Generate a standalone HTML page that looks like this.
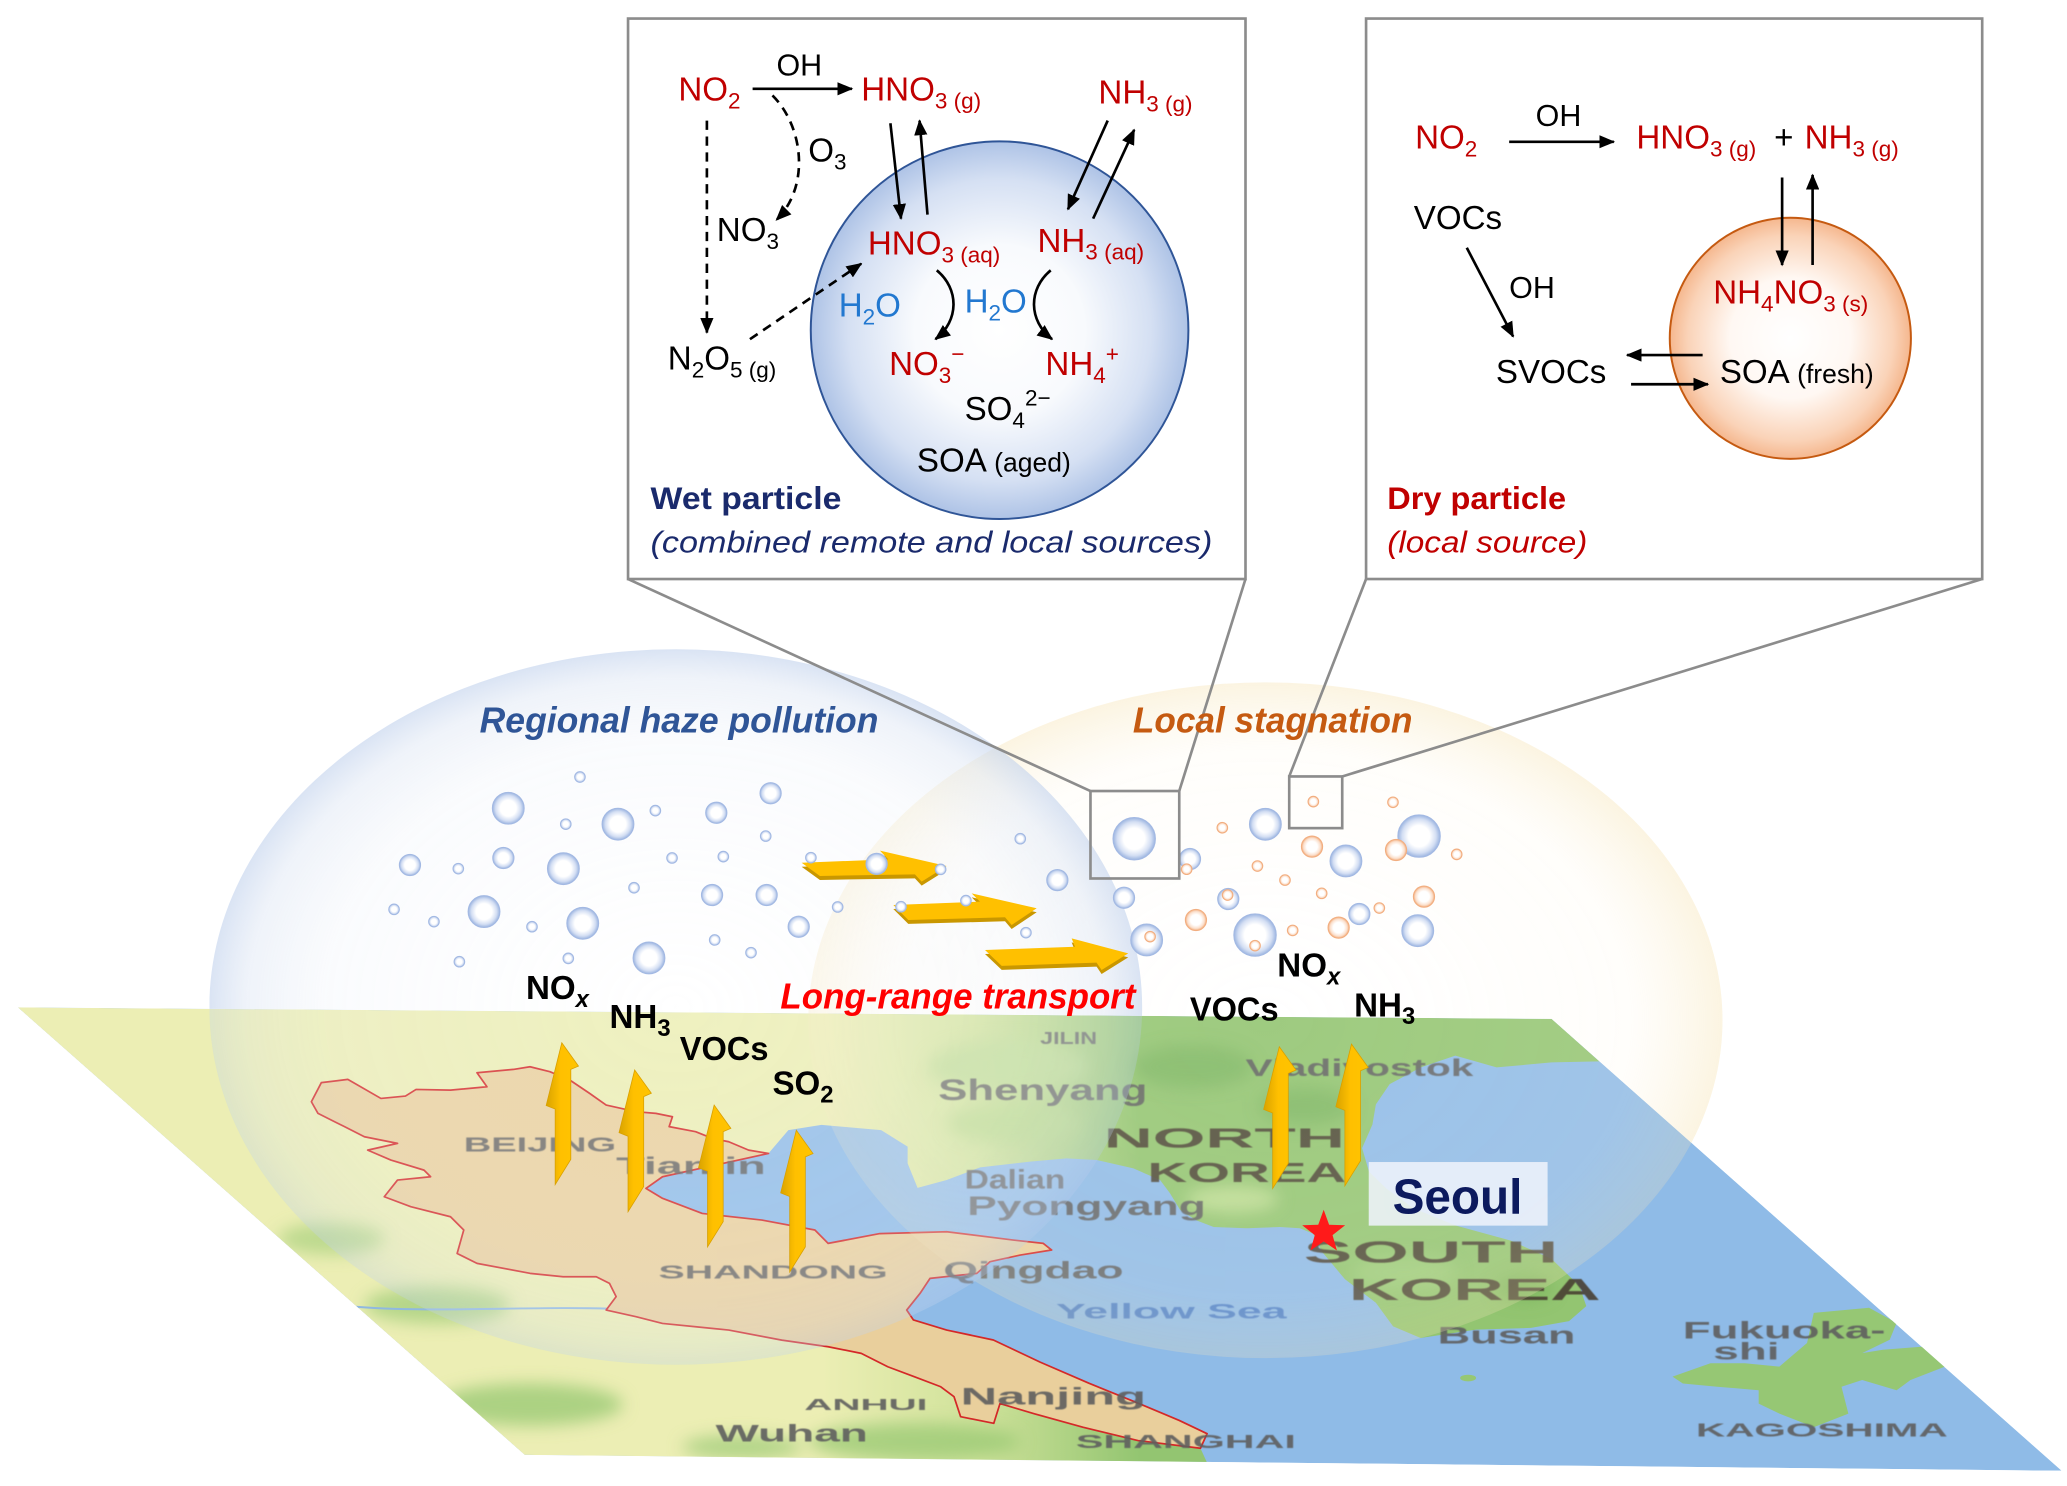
<!DOCTYPE html>
<html><head><meta charset="utf-8"><style>
html,body{margin:0;padding:0;background:#fff;overflow:hidden;}
svg{display:block;}
text{font-family:"Liberation Sans",Arial,sans-serif;}
</style></head><body>
<svg width="2067" height="1486" viewBox="0 0 1560 1121.5" preserveAspectRatio="none" xmlns="http://www.w3.org/2000/svg">
<defs>
<marker id="ah" viewBox="0 0 12 10" refX="11" refY="5" markerWidth="12" markerHeight="10" markerUnits="userSpaceOnUse" orient="auto"><path d="M0,0 L12,5 L0,10 z" fill="#000"/></marker>
<clipPath id="mapClip"><polygon points="13.5,760.3 1171,769 1556,1110 396,1098"/></clipPath>
<clipPath id="notMap"><path clip-rule="evenodd" d="M0,0 H1560 V1121.5 H0 Z M13.5,760.3 L1171,769 L1556,1110 L396,1098 Z"/></clipPath>
<clipPath id="landClip"><polygon points="13.5,760.3 1171,769 1207,801 1171.1,801.8 1129.5,805.6 1098.3,796.7 1072.3,805.6 1048.8,818.2 1038.4,833.5 1035.8,848.7 1028,866.5 1033.2,884.2 1046.2,896.9 1067,912.1 1098.3,924.8 1139.9,936.2 1171.1,950.2 1192,970.5 1197.2,985.7 1184.2,997.1 1155.5,1002.2 1113.9,1003.5 1072.2,1009.8 1051.4,1001 1038.4,983.2 1015,965.4 998,945 991,931 981,927 966,926 941,927 916,926 903,921 890.6,913 883,900.6 875.5,890.6 855.4,881.8 827.7,875.5 805,874.2 777.4,876.7 739.7,881 714.5,890.6 692.5,896.5 685,878 685,865.4 665,852.9 620,849 595,852.9 580,870.5 500,888.1 487.5,896.9 500,904.4 530,915.8 575,920.8 615,928.3 625,938.4 664,931 714.5,929.6 764.8,935.9 787.4,938.4 793.7,943.4 770,947.2 747.2,952.2 737.2,961 701.9,964.8 694.4,976.1 684.3,988.7 689.4,996.2 714.5,1003.8 749.7,1011.3 785,1028 822,1044 859,1059 890,1072 911,1082 906,1093 911,1104 396,1098"/></clipPath>
<linearGradient id="landGrad" gradientUnits="userSpaceOnUse" x1="620" y1="0" x2="860" y2="0">
<stop offset="0" stop-color="#eceeb4"/><stop offset="0.5" stop-color="#cfe29a"/><stop offset="1" stop-color="#93c571"/></linearGradient>
<radialGradient id="bubL" cx="0.5" cy="0.5" r="0.5">
<stop offset="0" stop-color="#ffffff" stop-opacity="0.3"/>
<stop offset="0.75" stop-color="#f3f6fb" stop-opacity="0.4"/>
<stop offset="0.92" stop-color="#dfe7f4" stop-opacity="0.5"/>
<stop offset="1" stop-color="#c3d3ed" stop-opacity="0.62"/></radialGradient>
<radialGradient id="bubR" cx="0.5" cy="0.5" r="0.5">
<stop offset="0" stop-color="#ffffff" stop-opacity="0.2"/>
<stop offset="0.8" stop-color="#fffaf0" stop-opacity="0.28"/>
<stop offset="1" stop-color="#f7e7bd" stop-opacity="0.45"/></radialGradient>
<radialGradient id="gb" cx="0.5" cy="0.5" r="0.5">
<stop offset="0" stop-color="#fff"/><stop offset="0.5" stop-color="#fff"/><stop offset="0.8" stop-color="#d3def3"/><stop offset="1" stop-color="#9bb4e0"/></radialGradient>
<radialGradient id="go" cx="0.5" cy="0.5" r="0.5">
<stop offset="0" stop-color="#fff"/><stop offset="0.5" stop-color="#fff"/><stop offset="0.8" stop-color="#fbe0cd"/><stop offset="1" stop-color="#f2ab7a"/></radialGradient>
<radialGradient id="wetG" cx="0.5" cy="0.5" r="0.5">
<stop offset="0" stop-color="#fff"/><stop offset="0.45" stop-color="#f8fafd"/><stop offset="0.8" stop-color="#d5e0f3"/><stop offset="1" stop-color="#aec3e6"/></radialGradient>
<radialGradient id="dryG" cx="0.5" cy="0.5" r="0.5">
<stop offset="0" stop-color="#fff"/><stop offset="0.5" stop-color="#fff8f3"/><stop offset="0.85" stop-color="#fad3b8"/><stop offset="1" stop-color="#f5b78e"/></radialGradient>
<linearGradient id="varr" x1="0" y1="0" x2="1" y2="0">
<stop offset="0" stop-color="#d9a300"/><stop offset="0.45" stop-color="#ffc000"/><stop offset="1" stop-color="#ffc400"/></linearGradient>
<filter id="blur1" x="-20%" y="-20%" width="140%" height="140%"><feGaussianBlur stdDeviation="6"/></filter>
<filter id="blurT" x="-5%" y="-30%" width="110%" height="160%"><feGaussianBlur stdDeviation="0.5"/></filter>
<g id="varrow"><polygon points="0,0 12.6,17.6 6.8,20.1 6.8,88 -5,107 -5,50 -11.8,47.3" fill="url(#varr)" stroke="#d9a000" stroke-width="0.6"/></g>
<g id="bigBubbles">
<ellipse cx="955" cy="770" rx="345" ry="255" fill="url(#bubR)"/>
<ellipse cx="510" cy="760" rx="352" ry="270" fill="url(#bubL)"/>
</g>
</defs>

<!-- ============ MAP ============ -->
<g clip-path="url(#mapClip)">
  <polygon points="13.5,760.3 1171,769 1556,1110 396,1098" fill="#8fbbe7"/>
  <polygon fill="url(#landGrad)" points="13.5,760.3 1171,769 1207,801 1171.1,801.8 1129.5,805.6 1098.3,796.7 1072.3,805.6 1048.8,818.2 1038.4,833.5 1035.8,848.7 1028,866.5 1033.2,884.2 1046.2,896.9 1067,912.1 1098.3,924.8 1139.9,936.2 1171.1,950.2 1192,970.5 1197.2,985.7 1184.2,997.1 1155.5,1002.2 1113.9,1003.5 1072.2,1009.8 1051.4,1001 1038.4,983.2 1015,965.4 998,945 991,931 981,927 966,926 941,927 916,926 903,921 890.6,913 883,900.6 875.5,890.6 855.4,881.8 827.7,875.5 805,874.2 777.4,876.7 739.7,881 714.5,890.6 692.5,896.5 685,878 685,865.4 665,852.9 620,849 595,852.9 580,870.5 500,888.1 487.5,896.9 500,904.4 530,915.8 575,920.8 615,928.3 625,938.4 664,931 714.5,929.6 764.8,935.9 787.4,938.4 793.7,943.4 770,947.2 747.2,952.2 737.2,961 701.9,964.8 694.4,976.1 684.3,988.7 689.4,996.2 714.5,1003.8 749.7,1011.3 785,1028 822,1044 859,1059 890,1072 911,1082 906,1093 911,1104 396,1098"/>
  <g clip-path="url(#landClip)">
    <g filter="url(#blur1)">
      <ellipse cx="330" cy="985" rx="55" ry="14" fill="#a7cf7e" opacity="0.8"/>
      <ellipse cx="400" cy="1060" rx="70" ry="16" fill="#9cca76" opacity="0.8"/>
      <ellipse cx="690" cy="1088" rx="80" ry="14" fill="#9cca76" opacity="0.8"/>
      <ellipse cx="250" cy="935" rx="40" ry="12" fill="#b1d486" opacity="0.8"/>
      <ellipse cx="560" cy="1092" rx="45" ry="9" fill="#a3cd7c" opacity="0.8"/>
      <ellipse cx="760" cy="805" rx="60" ry="20" fill="#bcdb92" opacity="0.8"/>
      <ellipse cx="765" cy="848" rx="50" ry="15" fill="#b5d78a" opacity="0.8"/>
      <ellipse cx="900" cy="805" rx="45" ry="16" fill="#74b05a" opacity="0.6"/>
      <ellipse cx="985" cy="835" rx="35" ry="14" fill="#74b05a" opacity="0.6"/>
      <ellipse cx="1085" cy="905" rx="28" ry="10" fill="#74b05a" opacity="0.55"/>
      <ellipse cx="1150" cy="972" rx="22" ry="10" fill="#74b05a" opacity="0.55"/>
      <ellipse cx="1060" cy="960" rx="40" ry="12" fill="#a9d283" opacity="0.6"/>
      <ellipse cx="930" cy="905" rx="35" ry="10" fill="#cfe6a0" opacity="0.7"/>
    </g>
    <path d="M255,985 C320,992 400,985 470,988" stroke="#8fb8e0" stroke-width="1.5" fill="none"/>
  </g>
  <!-- Japan -->
  <polygon points="1262.3,1039 1290.9,1028.9 1316.9,1028.9 1342.9,1031.4 1363.8,1013.6 1368.9,990.8 1410.6,987 1431.4,998.4 1426.2,1011.1 1405.4,1021.2 1421,1018.7 1452.3,1016.2 1467.9,1031.4 1441.9,1041.5 1431.4,1049.2 1405.4,1041.5 1389.8,1046.6 1395,1066.9 1369,1077.1 1343,1066.9 1327.3,1059.3 1327.3,1049.2 1296.1,1046.6 1270.1,1044.1" fill="#96c774"/>
  <ellipse cx="1108" cy="1040" rx="6" ry="2.5" fill="#96c774"/>
  <!-- China provinces -->
  <polygon points="235,831.5 242.5,817.1 262.5,814.6 287.5,829 306,827.2 314,822.2 340,822.7 367.5,820.2 360,809.6 387.5,807.1 400,805.1 415,808.8 430,815.1 445,825.2 457.5,834 480,839 495,840.3 507.5,842.8 505,850.3 525,854.1 537.5,859.1 550,861.7 565,868 580,870.5 500,888.1 487.5,896.9 500,904.4 530,915.8 575,920.8 615,928.3 625,938.4 664,931 714.5,929.6 764.8,935.9 787.4,938.4 793.7,943.4 770,947.2 747.2,952.2 737.2,961 701.9,964.8 694.4,976.1 684.3,988.7 689.4,996.2 714.5,1003.8 749.7,1011.3 785,1028 822,1044 859,1059 890,1072 911,1082 906,1093 858.8,1087.2 817.2,1077.1 780.7,1067 754.7,1059.3 750,1074.2 725,1069.2 720,1054.1 710,1046.6 690,1039 670,1031.5 650,1021.4 625,1016.4 590,1011.4 550,1003.8 525,1001.3 500,998.8 480,993.7 457.5,988.7 465,978.6 460,968.6 450,963.6 425,963.6 400,961 360,953.5 345,946 350,928.3 340,918.3 310,910.7 290,903.2 300,890.6 325,888.1 320,883.1 295,875.5 277.5,868 300,862.9 275,857.9 260,850.3 240,840.3" fill="#e9cf9c" stroke="#d42828" stroke-width="1.3" stroke-linejoin="round"/>
  <!-- map labels -->
  <g font-weight="bold" fill="#5e5e5e" opacity="0.9" filter="url(#blurT)">
    <text x="785" y="788" font-size="13" textLength="43" lengthAdjust="spacingAndGlyphs">JILIN</text>
    <text x="708" y="830" font-size="22" textLength="158" lengthAdjust="spacingAndGlyphs">Shenyang</text>
    <text x="728" y="897" font-size="20" textLength="76" lengthAdjust="spacingAndGlyphs">Dalian</text>
    <text x="730" y="917" font-size="20" textLength="180" lengthAdjust="spacingAndGlyphs">Pyongyang</text>
    <text x="940" y="812" font-size="18" textLength="172" lengthAdjust="spacingAndGlyphs">Vladivostok</text>
    <text x="833" y="866" font-size="21" textLength="182" lengthAdjust="spacingAndGlyphs" fill="#4a4033">NORTH</text>
    <text x="866" y="892" font-size="21" textLength="150" lengthAdjust="spacingAndGlyphs" fill="#4a4033">KOREA</text>
    <text x="984" y="953" font-size="23" textLength="192" lengthAdjust="spacingAndGlyphs" fill="#4a4033">SOUTH</text>
    <text x="1018" y="981" font-size="23" textLength="190" lengthAdjust="spacingAndGlyphs" fill="#4a4033">KOREA</text>
    <text x="797" y="995" font-size="16" textLength="174" lengthAdjust="spacingAndGlyphs" fill="#4a7cc6">Yellow Sea</text>
    <text x="1085" y="1014" font-size="18" textLength="104" lengthAdjust="spacingAndGlyphs">Busan</text>
    <text x="1270" y="1010" font-size="18" textLength="153" lengthAdjust="spacingAndGlyphs">Fukuoka-</text>
    <text x="1293" y="1026" font-size="18" textLength="50" lengthAdjust="spacingAndGlyphs">shi</text>
    <text x="1280" y="1084" font-size="14" textLength="190" lengthAdjust="spacingAndGlyphs">KAGOSHIMA</text>
    <text x="350" y="869" font-size="15" textLength="115" lengthAdjust="spacingAndGlyphs">BEIJING</text>
    <text x="465" y="886" font-size="18" textLength="113" lengthAdjust="spacingAndGlyphs">Tianjin</text>
    <text x="497" y="965" font-size="14" textLength="173" lengthAdjust="spacingAndGlyphs">SHANDONG</text>
    <text x="712" y="965" font-size="18" textLength="136" lengthAdjust="spacingAndGlyphs">Qingdao</text>
    <text x="607" y="1064" font-size="12" textLength="93" lengthAdjust="spacingAndGlyphs">ANHUI</text>
    <text x="725" y="1060" font-size="18" textLength="140" lengthAdjust="spacingAndGlyphs">Nanjing</text>
    <text x="540" y="1088" font-size="18" textLength="115" lengthAdjust="spacingAndGlyphs">Wuhan</text>
    <text x="812" y="1093" font-size="14" textLength="166" lengthAdjust="spacingAndGlyphs">SHANGHAI</text>
  </g>
</g>

<!-- ============ BIG BUBBLES ============ -->
<g clip-path="url(#notMap)"><use href="#bigBubbles"/></g>
<g clip-path="url(#mapClip)" opacity="0.55"><use href="#bigBubbles"/></g>

<!-- vertical emission arrows -->
<use href="#varrow" transform="translate(424,787)"/>
<use href="#varrow" transform="translate(479,807.5)"/>
<use href="#varrow" transform="translate(539,834)"/>
<use href="#varrow" transform="translate(601,853)"/>
<use href="#varrow" transform="translate(965.5,790)"/>
<use href="#varrow" transform="translate(1020,788)"/>

<!-- horizontal transport arrows -->
<g stroke-linejoin="round">
  <polygon transform="translate(0,3)" points="605,651.1 670.4,648.6 664.1,642 714.4,653.6 695.6,665.4 690.5,659.9 618.8,661.1" fill="#c99700"/>
  <polygon points="605,651.1 670.4,648.6 664.1,642 714.4,653.6 695.6,665.4 690.5,659.9 618.8,661.1" fill="#ffc000"/>
  <polygon transform="translate(0,3)" points="674.2,683 739.6,680.5 733.3,674.2 782.4,685.5 763.5,698.1 758.5,692.3 685.5,694.3" fill="#c99700"/>
  <polygon points="674.2,683 739.6,680.5 733.3,674.2 782.4,685.5 763.5,698.1 758.5,692.3 685.5,694.3" fill="#ffc000"/>
  <polygon transform="translate(0,3)" points="743.4,717 811.3,714.5 808.8,708.2 851.5,719.5 831.4,732.1 827.6,726.5 756,729" fill="#c99700"/>
  <polygon points="743.4,717 811.3,714.5 808.8,708.2 851.5,719.5 831.4,732.1 827.6,726.5 756,729" fill="#ffc000"/>
</g>

<!-- small bubbles -->
<g fill="url(#gb)" stroke="#a3b9e3" stroke-width="0.8">
<circle cx="437.7" cy="586.4" r="4"/><circle cx="383.6" cy="610" r="12"/><circle cx="427" cy="622" r="4"/><circle cx="466.4" cy="622" r="12"/><circle cx="494.6" cy="611.8" r="4"/><circle cx="540.6" cy="613.4" r="8"/><circle cx="581.6" cy="598.7" r="8"/><circle cx="577.9" cy="631" r="4"/><circle cx="309.4" cy="652.8" r="8"/><circle cx="345.9" cy="655.6" r="4"/><circle cx="379.9" cy="647.5" r="8"/><circle cx="425.2" cy="655.6" r="12"/><circle cx="507.2" cy="647.5" r="4"/><circle cx="545.9" cy="646.5" r="4"/><circle cx="297.4" cy="686.3" r="4"/><circle cx="327.5" cy="695.6" r="4"/><circle cx="365.3" cy="688" r="12"/><circle cx="401.5" cy="699.4" r="4"/><circle cx="439.8" cy="696.8" r="12"/><circle cx="478.5" cy="670" r="4"/><circle cx="537.4" cy="675.5" r="8"/><circle cx="578.6" cy="675.5" r="8"/><circle cx="632.2" cy="684.5" r="4"/><circle cx="602.8" cy="699.4" r="8"/><circle cx="346.7" cy="725.8" r="4"/><circle cx="428.9" cy="723.3" r="4"/><circle cx="489.8" cy="723" r="12"/><circle cx="539.4" cy="709.4" r="4"/><circle cx="566.8" cy="719" r="4"/><circle cx="612" cy="647.3" r="4"/><circle cx="661.6" cy="652" r="8"/><circle cx="709.9" cy="656.1" r="4"/><circle cx="680" cy="684.3" r="4"/><circle cx="729" cy="679.7" r="4"/><circle cx="774.3" cy="703.9" r="4"/><circle cx="770" cy="633" r="4"/><circle cx="798" cy="664.2" r="8"/><circle cx="848.3" cy="677.5" r="8"/><circle cx="865.4" cy="709.4" r="12"/><circle cx="856" cy="633" r="16"/><circle cx="898.1" cy="648.3" r="8"/><circle cx="955" cy="622.1" r="12"/><circle cx="1015.8" cy="649.8" r="12"/><circle cx="1071" cy="631" r="16"/><circle cx="927" cy="678.5" r="8"/><circle cx="947.2" cy="705.7" r="16"/><circle cx="1025.9" cy="689.8" r="8"/><circle cx="1070" cy="702.4" r="12"/>
</g>
<g fill="url(#go)" stroke="#f2ae80" stroke-width="0.8">
<circle cx="922.5" cy="624.7" r="4"/><circle cx="991.2" cy="605" r="4"/><circle cx="1051.3" cy="605.5" r="4"/><circle cx="990.2" cy="639" r="8"/><circle cx="1053.6" cy="641.5" r="8"/><circle cx="1099.4" cy="644.8" r="4"/><circle cx="895.6" cy="656" r="4"/><circle cx="949" cy="653.6" r="4"/><circle cx="969.8" cy="664.2" r="4"/><circle cx="997.5" cy="674.2" r="4"/><circle cx="1074.7" cy="676.7" r="8"/><circle cx="1041" cy="685.3" r="4"/><circle cx="926.5" cy="675.5" r="4"/><circle cx="902.6" cy="694.3" r="8"/><circle cx="1010.3" cy="700.1" r="8"/><circle cx="975.6" cy="702.2" r="4"/><circle cx="868" cy="706.9" r="4"/><circle cx="947.2" cy="713.7" r="4"/>
</g>

<!-- connectors and zoom boxes -->
<g stroke="#8c8c8c" stroke-width="2" fill="none">
  <line x1="823" y1="597" x2="474" y2="437"/>
  <line x1="890" y1="597" x2="940" y2="437"/>
  <line x1="973" y1="586" x2="1031" y2="437"/>
  <line x1="1013" y1="586" x2="1496" y2="437"/>
  <rect x="823" y="597" width="67" height="66"/>
  <rect x="973" y="586" width="40" height="39"/>
</g>

<!-- region labels -->
<g font-weight="bold" font-style="italic" font-size="27">
  <text x="362" y="553" fill="#2f5597" textLength="301" lengthAdjust="spacingAndGlyphs">Regional haze pollution</text>
  <text x="855" y="553" fill="#c55a11" textLength="211" lengthAdjust="spacingAndGlyphs">Local stagnation</text>
  <text x="589" y="761" fill="#ff0000" textLength="268" lengthAdjust="spacingAndGlyphs">Long-range transport</text>
</g>

<!-- emission labels -->
<g font-weight="bold" font-size="25" fill="#000">
  <text x="397" y="754">NO<tspan font-size="18" font-style="italic" dy="6">x</tspan></text>
  <text x="460" y="776">NH<tspan font-size="18" dy="6">3</tspan></text>
  <text x="513" y="800" textLength="67" lengthAdjust="spacingAndGlyphs">VOCs</text>
  <text x="583" y="826">SO<tspan font-size="18" dy="6">2</tspan></text>
  <text x="964" y="737">NO<tspan font-size="18" font-style="italic" dy="6">x</tspan></text>
  <text x="898" y="770" textLength="67" lengthAdjust="spacingAndGlyphs">VOCs</text>
  <text x="1022" y="767">NH<tspan font-size="18" dy="6">3</tspan></text>
</g>

<!-- Seoul + star -->
<rect x="1033" y="877" width="135" height="48" fill="#eef3fb" opacity="0.88"/>
<text x="1051" y="916" font-size="37" font-weight="bold" fill="#0c1a5e" textLength="98" lengthAdjust="spacingAndGlyphs">Seoul</text>
<polygon points="999,913 1003.1,924.3 1015.2,924.7 1005.7,932.2 1009,943.8 999,937 989,943.8 992.3,932.2 982.8,924.7 994.9,924.3" fill="#ff1a1a"/>

<!-- ============ WET PARTICLE BOX ============ -->
<rect x="474" y="14" width="466" height="423" fill="#fff" stroke="#8c8c8c" stroke-width="2"/>
<circle cx="754.4" cy="249.2" r="142.5" fill="url(#wetG)" stroke="#2f5597" stroke-width="1.5"/>
<g stroke="#000" stroke-width="2" fill="none">
  <line x1="568" y1="67" x2="643" y2="67" marker-end="url(#ah)"/>
  <line x1="533.5" y1="91" x2="533.5" y2="251" stroke-dasharray="7,5" marker-end="url(#ah)"/>
  <path d="M583,72 C606,95 612,140 586,166" stroke-dasharray="7,5" marker-end="url(#ah)"/>
  <line x1="566" y1="256" x2="650" y2="199" stroke-dasharray="7,5" marker-end="url(#ah)"/>
  <line x1="672" y1="93" x2="680" y2="165" marker-end="url(#ah)"/>
  <line x1="700" y1="162" x2="694" y2="91" marker-end="url(#ah)"/>
  <line x1="836" y1="91" x2="806" y2="158" marker-end="url(#ah)"/>
  <line x1="825" y1="165" x2="856" y2="98" marker-end="url(#ah)"/>
  <path d="M707,204 C724,218 724,242 706,256" marker-end="url(#ah)"/>
  <path d="M793,204 C776,218 776,242 794,256" marker-end="url(#ah)"/>
</g>
<g font-size="25">
  <text x="512" y="76" fill="#c00000">NO<tspan font-size="17" dy="6">2</tspan></text>
  <text x="586" y="57" font-size="23" fill="#000">OH</text>
  <text x="650" y="76" fill="#c00000">HNO<tspan font-size="17" dy="6">3 (g)</tspan></text>
  <text x="829" y="78" fill="#c00000">NH<tspan font-size="17" dy="6">3 (g)</tspan></text>
  <text x="610" y="122" fill="#000">O<tspan font-size="17" dy="6">3</tspan></text>
  <text x="541" y="182" fill="#000">NO<tspan font-size="17" dy="6">3</tspan></text>
  <text x="504" y="279" fill="#000">N<tspan font-size="17" dy="6">2</tspan><tspan dy="-6">O</tspan><tspan font-size="17" dy="6">5 (g)</tspan></text>
  <text x="655" y="192" fill="#c00000">HNO<tspan font-size="17" dy="6">3 (aq)</tspan></text>
  <text x="783" y="190" fill="#c00000">NH<tspan font-size="17" dy="6">3 (aq)</tspan></text>
  <text x="633" y="239" fill="#2278d0">H<tspan font-size="17" dy="6">2</tspan><tspan dy="-6">O</tspan></text>
  <text x="728" y="236" fill="#2278d0">H<tspan font-size="17" dy="6">2</tspan><tspan dy="-6">O</tspan></text>
  <text x="671" y="283" fill="#c00000">NO<tspan font-size="17" dy="6">3</tspan><tspan font-size="17" dy="-16">−</tspan></text>
  <text x="789" y="283" fill="#c00000">NH<tspan font-size="17" dy="6">4</tspan><tspan font-size="17" dy="-16">+</tspan></text>
  <text x="728" y="317" fill="#000">SO<tspan font-size="17" dy="6">4</tspan><tspan font-size="17" dy="-17">2−</tspan></text>
  <text x="692" y="356" fill="#000">SOA<tspan font-size="20"> (aged)</tspan></text>
  <text x="491" y="384" font-size="24" font-weight="bold" fill="#1a2a6c" textLength="144" lengthAdjust="spacingAndGlyphs">Wet particle</text>
  <text x="491" y="417" font-size="23" font-style="italic" fill="#1a2a6c" textLength="424" lengthAdjust="spacingAndGlyphs">(combined remote and local sources)</text>
</g>

<!-- ============ DRY PARTICLE BOX ============ -->
<rect x="1031" y="14" width="465" height="423" fill="#fff" stroke="#8c8c8c" stroke-width="2"/>
<circle cx="1351.2" cy="255.3" r="91" fill="url(#dryG)" stroke="#c55a11" stroke-width="1.5"/>
<g stroke="#000" stroke-width="2" fill="none">
  <line x1="1139" y1="107" x2="1218" y2="107" marker-end="url(#ah)"/>
  <line x1="1345" y1="134" x2="1345" y2="200" marker-end="url(#ah)"/>
  <line x1="1368" y1="200" x2="1368" y2="132" marker-end="url(#ah)"/>
  <line x1="1107" y1="187" x2="1142" y2="254" marker-end="url(#ah)"/>
  <line x1="1285" y1="268" x2="1228" y2="268" marker-end="url(#ah)"/>
  <line x1="1231" y1="290" x2="1289" y2="290" marker-end="url(#ah)"/>
</g>
<g font-size="25">
  <text x="1068" y="112" fill="#c00000">NO<tspan font-size="17" dy="6">2</tspan></text>
  <text x="1159" y="95" font-size="23" fill="#000">OH</text>
  <text x="1235" y="112" fill="#c00000">HNO<tspan font-size="17" dy="6">3 (g)</tspan></text>
  <text x="1339" y="112" fill="#000">+</text>
  <text x="1362" y="112" fill="#c00000">NH<tspan font-size="17" dy="6">3 (g)</tspan></text>
  <text x="1067" y="173" fill="#000">VOCs</text>
  <text x="1139" y="225" font-size="23" fill="#000">OH</text>
  <text x="1293" y="229" fill="#c00000">NH<tspan font-size="17" dy="6">4</tspan><tspan dy="-6">NO</tspan><tspan font-size="17" dy="6">3 (s)</tspan></text>
  <text x="1129" y="289" fill="#000">SVOCs</text>
  <text x="1298" y="289" fill="#000">SOA<tspan font-size="20"> (fresh)</tspan></text>
  <text x="1047" y="384" font-size="24" font-weight="bold" fill="#c00000" textLength="135" lengthAdjust="spacingAndGlyphs">Dry particle</text>
  <text x="1047" y="417" font-size="23" font-style="italic" fill="#c00000" textLength="151" lengthAdjust="spacingAndGlyphs">(local source)</text>
</g>
</svg>
</body></html>
